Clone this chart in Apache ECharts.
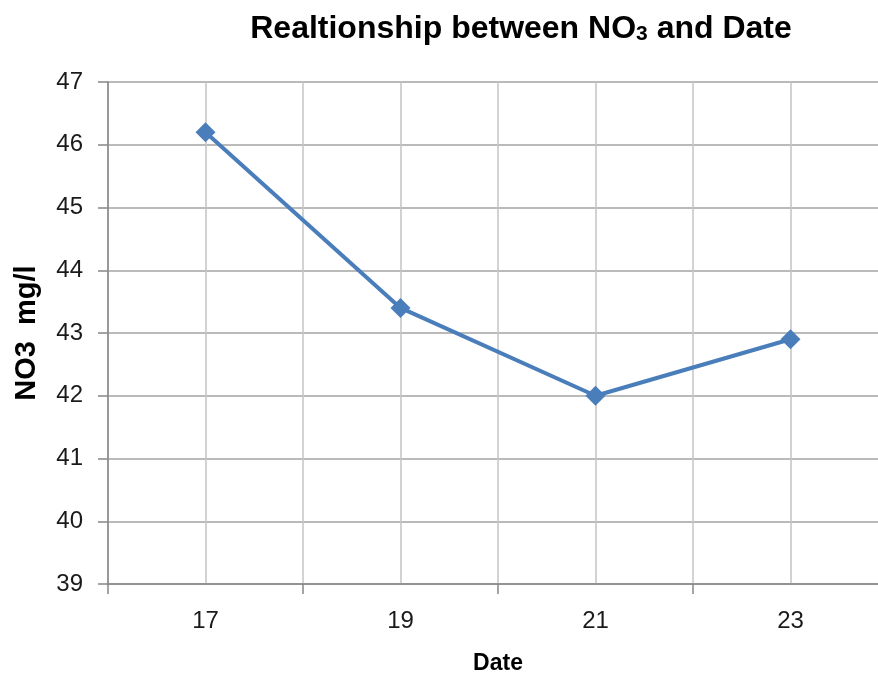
<!DOCTYPE html>
<html>
<head>
<meta charset="utf-8">
<script src="https://cdn.jsdelivr.net/npm/echarts@6/dist/echarts.min.js"></script>
<style>
  html, body { margin: 0; padding: 0; background: #fff; overflow: hidden; }
  #chart { width: 888px; height: 675px; }
</style>
</head>
<body>
<div id="chart"></div>
<script>
// Sampling dates and measured nitrate concentration
const dates = [17, 19, 21, 23];
const no3 = [46.2, 43.4, 42.0, 42.9];
// Axis ranges and label positions
const dateLabels = [17, 19, 21, 23];
const dateMin = 16, dateMax = 24, dateStep = 2;
const yMin = 39, yMax = 47, yStep = 1;

const points = dates.map((d, i) => [d, no3[i]]);
const font = "'Liberation Sans', Arial, sans-serif";
const axisColor = '#868686';

const chart = echarts.init(document.getElementById('chart'), null, { renderer: 'canvas' });
chart.setOption({
  animation: false,
  backgroundColor: '#ffffff',
  title: {
    text: '{a|Realtionship between NO}{b|3}{a| and Date}',
    left: 516,
    textAlign: 'center',
    top: 8,
    textStyle: {
      rich: {
        a: { fontFamily: font, fontWeight: 'bold', fontSize: 32, color: '#000' },
        b: { fontFamily: font, fontWeight: 'bold', fontSize: 21, color: '#000', verticalAlign: 'bottom', padding: [10, 0, 0, 0] }
      }
    }
  },
  grid: { left: 108, top: 82, width: 780, height: 502, containLabel: false, outerBoundsMode: 'none' },
  xAxis: {
    type: 'value',
    min: dateMin, max: dateMax, interval: dateStep,
    name: 'Date',
    nameLocation: 'middle',
    nameGap: 68,
    nameTextStyle: { fontFamily: font, fontWeight: 'bold', fontSize: 23, color: '#000' },
    axisLine: { show: true, lineStyle: { color: axisColor, width: 1.5 } },
    axisTick: { show: true, length: 10, lineStyle: { color: axisColor, width: 1.5 } },
    axisLabel: { customValues: dateLabels, margin: 25, fontFamily: font, fontSize: 24, color: '#1a1a1a' },
    splitLine: { show: true, lineStyle: { color: '#c4c4c4', width: 1.5 } },
    minorTick: { show: false, splitNumber: 2 },
    minorSplitLine: { show: true, lineStyle: { color: '#c4c4c4', width: 1.5 } }
  },
  yAxis: {
    type: 'value',
    min: yMin, max: yMax, interval: yStep,
    name: 'NO3  mg/l',
    nameLocation: 'middle',
    nameRotate: 90,
    nameGap: 67,
    nameTextStyle: { fontFamily: font, fontWeight: 'bold', fontSize: 29, color: '#000' },
    axisLine: { show: true, lineStyle: { color: axisColor, width: 1.5 } },
    axisTick: { show: true, length: 10, lineStyle: { color: axisColor, width: 1.5 } },
    axisLabel: { margin: 25, fontFamily: font, fontSize: 24, color: '#1a1a1a' },
    splitLine: { show: true, lineStyle: { color: '#a3a3a3', width: 1.7 } }
  },
  series: [{
    type: 'line',
    data: points,
    symbol: 'diamond',
    symbolSize: 20,
    lineStyle: { color: '#4a7ebb', width: 4 },
    itemStyle: { color: '#4a7ebb' },
    clip: false
  }]
});
</script>
</body>
</html>
